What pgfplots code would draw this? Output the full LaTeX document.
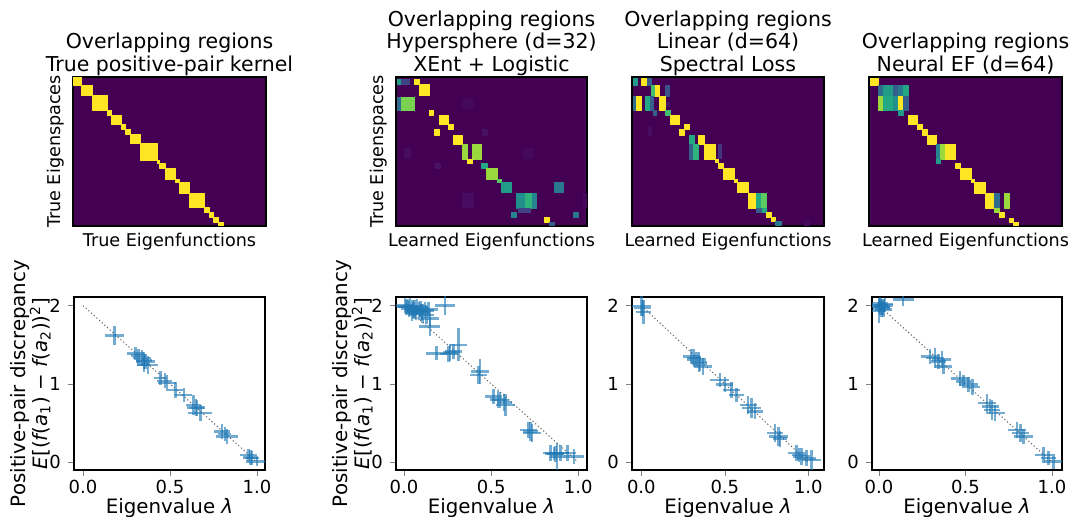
\documentclass[border=0pt]{standalone}
\usepackage{fontspec}
\setmainfont{DejaVu Sans}
\usepackage{pgfplots}
\pgfplotsset{compat=1.18}
\definecolor{tabblue}{HTML}{1F77B4}
\definecolor{vir0}{HTML}{440154}
\newcommand\titlefont{\fontsize{10.25}{11.25}\selectfont}
\newcommand\hlabfont{\fontsize{8.8}{10}\selectfont}
\newcommand\labfont{\fontsize{9.9}{11}\selectfont}
\newcommand\tickfont{\fontsize{9}{10}\selectfont}

\pgfplotsset{
  heat/.style={
    scale only axis, height=74.5pt, enlargelimits=false, y dir=reverse,
    ymin=22, ymax=467, xtick=\empty, ytick=\empty,
    axis background/.style={fill=vir0},
    colormap/viridis, point meta min=0, point meta max=1,
    axis line style={line width=0.6pt},
    title style={align=center, font=\titlefont, inner sep=0pt, yshift=-6.6pt},
    xlabel style={at={(axis description cs:0.5,-0.047)}, anchor=north, inner sep=0pt, font=\hlabfont},
    ylabel style={at={(axis description cs:-0.045,0.5)}, anchor=south, inner sep=0pt, font=\hlabfont},
  },
  disc/.style={
    scale only axis, height=86.5pt, ymin=-0.1, ymax=2.11,
    xtick={0,0.5,1}, xticklabels={0.0,0.5,1.0}, ytick={0,1,2},
    tick pos=left, tick align=outside, major tick length=3pt,
    tick label style={font=\tickfont},
    xticklabel style={yshift=1.5pt},
    /pgf/number format/assume math mode=true,
    axis line style={line width=0.6pt},
    xlabel={Eigenvalue {\itshape λ}},
    xlabel style={at={(axis description cs:0.5,-0.16)}, anchor=north, inner sep=0pt, font=\labfont},
    ylabel style={at={(axis description cs:-0.12,0.5)}, anchor=south, inner sep=0pt, align=center, font=\labfont},
  },
  cross/.style={draw=none, mark=none,
    error bars/.cd, x dir=both, x explicit, y dir=both, y explicit,
    error mark=none, error bar style={line width=1.25pt, tabblue, opacity=0.62}},
  diag/.style={color=black!60, line width=0.5pt, dash pattern=on 0.6pt off 1.2pt},
}

\begin{document}
\begin{tikzpicture}
\path[use as bounding box] (0,0) rectangle (535pt,258.5pt);

% ---------------- top row: overlap heatmaps ----------------
\begin{axis}[heat, at={(36.5pt,145.5pt)}, anchor=south west, width=96.5pt,
  xmin=42, xmax=617, ymin=24,
  title={Overlapping regions\\True positive-pair kernel\strut},
  xlabel={True Eigenfunctions}, ylabel={True Eigenspaces}]
\addplot[patch, patch type=rectangle, shader=flat, point meta=explicit] coordinates {
(42,24)[1] (68,24)[1] (68,48)[1] (42,48)[1]
(68,48)[1] (100,48)[1] (100,80)[1] (68,80)[1]
(100,80)[1] (143,80)[1] (143,123)[1] (100,123)[1]
(143,123)[1] (157,123)[1] (157,137)[1] (143,137)[1]
(157,137)[1] (185,137)[1] (185,165)[1] (157,165)[1]
(185,165)[1] (199,165)[1] (199,179)[1] (185,179)[1]
(199,179)[1] (214,179)[1] (214,194)[1] (199,194)[1]
(214,194)[1] (242,194)[1] (242,222)[1] (214,222)[1]
(242,222)[1] (292,222)[1] (292,272)[1] (242,272)[1]
(292,272)[1] (300,272)[1] (300,280)[1] (292,280)[1]
(300,280)[1] (316,280)[1] (316,296)[1] (300,296)[1]
(316,296)[1] (348,296)[1] (348,328)[1] (316,328)[1]
(348,328)[1] (358,328)[1] (358,338)[1] (348,338)[1]
(358,338)[1] (390,338)[1] (390,370)[1] (358,370)[1]
(390,370)[1] (432,370)[1] (432,412)[1] (390,412)[1]
(432,412)[1] (447,412)[1] (447,427)[1] (432,427)[1]
(447,427)[1] (461,427)[1] (461,441)[1] (447,441)[1]
(461,441)[1] (475,441)[1] (475,455)[1] (461,455)[1]
(475,455)[1] (490,455)[1] (490,467)[1] (475,467)[1]
};
\end{axis}

\begin{axis}[heat, at={(198pt,145.5pt)}, anchor=south west, width=95.5pt,
  xmin=17, xmax=590,
  title={Overlapping regions\\Hypersphere (d=32)\\XEnt + Logistic\strut},
  xlabel={Learned Eigenfunctions}, ylabel={True Eigenspaces}]
\addplot[patch, patch type=rectangle, shader=flat, point meta=explicit] coordinates {
(43,235)[0.03] (60,235)[0.03] (60,265)[0.03] (43,265)[0.03]
(215,85)[0.02] (250,85)[0.02] (250,115)[0.02] (215,115)[0.02]
(135,280)[0.05] (150,280)[0.05] (150,295)[0.05] (135,295)[0.05]
(275,180)[0.04] (290,180)[0.04] (290,195)[0.04] (275,195)[0.04]
(400,235)[0.02] (430,235)[0.02] (430,265)[0.02] (400,265)[0.02]
(215,370)[0.03] (250,370)[0.03] (250,410)[0.03] (215,410)[0.03]
(580,370)[0.02] (590,370)[0.02] (590,410)[0.02] (580,410)[0.02]
(20,28)[0.55] (32,28)[0.55] (32,45)[0.55] (20,45)[0.55]
(33,28)[0.2] (58,28)[0.2] (58,45)[0.2] (33,45)[0.2]
(73,28)[1] (88,28)[1] (88,45)[1] (73,45)[1]
(88,45)[1] (116,45)[1] (116,78)[1] (88,78)[1]
(20,82)[0.35] (33,82)[0.35] (33,122)[0.35] (20,122)[0.35]
(33,82)[0.8] (72,82)[0.8] (72,122)[0.8] (33,122)[0.8]
(116,122)[1] (130,122)[1] (130,137)[1] (116,137)[1]
(147,138)[1] (173,138)[1] (173,164)[1] (147,164)[1]
(173,164)[1] (188,164)[1] (188,180)[1] (173,180)[1]
(131,180)[1] (147,180)[1] (147,195)[1] (131,195)[1]
(188,195)[1] (215,195)[1] (215,222)[1] (188,222)[1]
(215,222)[0.85] (232,222)[0.85] (232,268)[0.85] (215,268)[0.85]
(245,222)[0.85] (273,222)[0.85] (273,268)[0.85] (245,268)[0.85]
(232,268)[1] (246,268)[1] (246,280)[1] (232,280)[1]
(273,280)[0.6] (290,280)[0.6] (290,295)[0.6] (273,295)[0.6]
(288,295)[0.85] (322,295)[0.85] (322,328)[0.85] (288,328)[0.85]
(322,328)[0.75] (332,328)[0.75] (332,338)[0.75] (322,338)[0.75]
(332,338)[0.55] (363,338)[0.55] (363,368)[0.55] (332,368)[0.55]
(493,338)[0.4] (520,338)[0.4] (520,368)[0.4] (493,368)[0.4]
(378,370)[0.5] (405,370)[0.5] (405,413)[0.5] (378,413)[0.5]
(405,370)[0.65] (425,370)[0.65] (425,413)[0.65] (405,413)[0.65]
(425,370)[0.45] (438,370)[0.45] (438,413)[0.45] (425,413)[0.45]
(383,413)[0.2] (420,413)[0.2] (420,426)[0.2] (383,426)[0.2]
(363,425)[0.45] (378,425)[0.45] (378,440)[0.45] (363,440)[0.45]
(550,425)[0.4] (563,425)[0.4] (563,440)[0.4] (550,440)[0.4]
(462,440)[1] (478,440)[1] (478,455)[1] (462,455)[1]
(478,455)[0.3] (493,455)[0.3] (493,465)[0.3] (478,465)[0.3]
};
\end{axis}

\begin{axis}[heat, at={(316pt,145.5pt)}, anchor=south west, width=96pt,
  xmin=37, xmax=613,
  title={Overlapping regions\\Linear (d=64)\\Spectral Loss\strut},
  xlabel={Learned Eigenfunctions}]
\addplot[patch, patch type=rectangle, shader=flat, point meta=explicit] coordinates {
(85,170)[0.03] (95,170)[0.03] (95,195)[0.03] (85,195)[0.03]
(140,97)[0.06] (150,97)[0.06] (150,110)[0.06] (140,110)[0.06]
(555,450)[0.02] (570,450)[0.02] (570,465)[0.02] (555,465)[0.02]
(40,27)[0.55] (52,27)[0.55] (52,47)[0.55] (40,47)[0.55]
(65,27)[1] (80,27)[1] (80,47)[1] (65,47)[1]
(82,27)[0.3] (95,27)[0.3] (95,47)[0.3] (82,47)[0.3]
(95,47)[0.7] (108,47)[0.7] (108,80)[0.7] (95,80)[0.7]
(108,47)[1] (120,47)[1] (120,80)[1] (108,80)[1]
(138,47)[0.25] (150,47)[0.25] (150,80)[0.25] (138,80)[0.25]
(40,80)[0.35] (50,80)[0.35] (50,122)[0.35] (40,122)[0.35]
(50,80)[1] (64,80)[1] (64,122)[1] (50,122)[1]
(78,80)[0.6] (93,80)[0.6] (93,122)[0.6] (78,122)[0.6]
(93,80)[0.3] (100,80)[0.3] (100,122)[0.3] (93,122)[0.3]
(120,80)[1] (136,80)[1] (136,122)[1] (120,122)[1]
(100,122)[0.3] (110,122)[0.3] (110,137)[0.3] (100,137)[0.3]
(136,122)[0.7] (152,122)[0.7] (152,137)[0.7] (136,137)[0.7]
(152,137)[1] (180,137)[1] (180,163)[1] (152,163)[1]
(195,163)[1] (210,163)[1] (210,180)[1] (195,180)[1]
(178,180)[1] (195,180)[1] (195,195)[1] (178,195)[1]
(210,195)[0.6] (225,195)[0.6] (225,222)[0.6] (210,222)[0.6]
(235,195)[1] (253,195)[1] (253,222)[1] (235,222)[1]
(210,222)[0.3] (222,222)[0.3] (222,268)[0.3] (210,268)[0.3]
(222,222)[0.65] (235,222)[0.65] (235,268)[0.65] (222,268)[0.65]
(253,222)[1] (288,222)[1] (288,268)[1] (253,268)[1]
(296,222)[0.15] (306,222)[0.15] (306,265)[0.15] (296,265)[0.15]
(288,268)[1] (297,268)[1] (297,278)[1] (288,278)[1]
(297,280)[1] (310,280)[1] (310,295)[1] (297,295)[1]
(312,295)[1] (343,295)[1] (343,328)[1] (312,328)[1]
(343,328)[1] (352,328)[1] (352,338)[1] (343,338)[1]
(352,338)[1] (385,338)[1] (385,368)[1] (352,368)[1]
(385,370)[1] (410,370)[1] (410,413)[1] (385,413)[1]
(410,370)[0.6] (425,370)[0.6] (425,413)[0.6] (410,413)[0.6]
(425,370)[0.75] (440,370)[0.75] (440,413)[0.75] (425,413)[0.75]
(410,413)[0.3] (428,413)[0.3] (428,425)[0.3] (410,425)[0.3]
(428,413)[0.6] (440,413)[0.6] (440,425)[0.6] (428,425)[0.6]
(440,425)[1] (455,425)[1] (455,440)[1] (440,440)[1]
(455,440)[1] (467,440)[1] (467,452)[1] (455,452)[1]
(467,452)[0.4] (485,452)[0.4] (485,465)[0.4] (467,465)[0.4]
};
\end{axis}

\begin{axis}[heat, at={(434.5pt,145.5pt)}, anchor=south west, width=96.5pt,
  xmin=58, xmax=635,
  title={Overlapping regions\\Neural EF (d=64)\strut},
  xlabel={Learned Eigenfunctions}]
\addplot[patch, patch type=rectangle, shader=flat, point meta=explicit] coordinates {
(62,27)[1] (87,27)[1] (87,47)[1] (62,47)[1]
(87,47)[0.35] (100,47)[0.35] (100,80)[0.35] (87,80)[0.35]
(100,47)[0.55] (130,47)[0.55] (130,80)[0.55] (100,80)[0.55]
(130,47)[0.3] (145,47)[0.3] (145,80)[0.3] (130,80)[0.3]
(145,47)[0.4] (160,47)[0.4] (160,80)[0.4] (145,80)[0.4]
(160,47)[0.6] (176,47)[0.6] (176,80)[0.6] (160,80)[0.6]
(87,80)[0.85] (100,80)[0.85] (100,122)[0.85] (87,122)[0.85]
(100,80)[0.6] (130,80)[0.6] (130,122)[0.6] (100,122)[0.6]
(130,80)[0.5] (145,80)[0.5] (145,122)[0.5] (130,122)[0.5]
(145,80)[1] (160,80)[1] (160,122)[1] (145,122)[1]
(160,80)[0.3] (176,80)[0.3] (176,122)[0.3] (160,122)[0.3]
(145,122)[0.55] (160,122)[0.55] (160,137)[0.55] (145,137)[0.55]
(176,137)[1] (203,137)[1] (203,163)[1] (176,163)[1]
(203,163)[1] (217,163)[1] (217,178)[1] (203,178)[1]
(217,180)[1] (233,180)[1] (233,195)[1] (217,195)[1]
(233,195)[1] (260,195)[1] (260,222)[1] (233,222)[1]
(258,222)[0.45] (272,222)[0.45] (272,268)[0.45] (258,268)[0.45]
(272,222)[0.85] (285,222)[0.85] (285,268)[0.85] (272,268)[0.85]
(285,222)[1] (317,222)[1] (317,268)[1] (285,268)[1]
(258,268)[0.55] (272,268)[0.55] (272,280)[0.55] (258,280)[0.55]
(317,280)[1] (332,280)[1] (332,295)[1] (317,295)[1]
(332,295)[1] (365,295)[1] (365,328)[1] (332,328)[1]
(365,328)[1] (373,328)[1] (373,338)[1] (365,338)[1]
(373,338)[1] (405,338)[1] (405,370)[1] (373,370)[1]
(405,370)[1] (432,370)[1] (432,413)[1] (405,413)[1]
(432,370)[0.35] (447,370)[0.35] (447,413)[0.35] (432,413)[0.35]
(462,370)[0.85] (478,370)[0.85] (478,413)[0.85] (462,413)[0.85]
(432,413)[0.85] (447,413)[0.85] (447,427)[0.85] (432,427)[0.85]
(447,427)[1] (462,427)[1] (462,442)[1] (447,442)[1]
(478,443)[1] (490,443)[1] (490,455)[1] (478,455)[1]
(490,455)[1] (505,455)[1] (505,465)[1] (490,465)[1]
};
\end{axis}

% ---------------- bottom row: discrepancy vs eigenvalue ----------------
\begin{axis}[disc, at={(37pt,23.5pt)}, anchor=south west, width=95.5pt,
  xmin=-0.052, xmax=1.046,
  ylabel={Positive-pair discrepancy\\{\itshape E}[({\itshape f}({\itshape a}\textsubscript{1}) − {\itshape f}({\itshape a}\textsubscript{2}))\textsuperscript{2}]}]
\addplot[diag] coordinates {(0,2) (1,0)};
\addplot[cross] table[x=x, y=y, x error=ex, y error=ey] {
x y ex ey
0.180 1.617 0.054 0.120
0.301 1.391 0.048 0.080
0.320 1.360 0.044 0.088
0.339 1.328 0.050 0.100
0.350 1.300 0.045 0.106
0.358 1.285 0.056 0.094
0.372 1.243 0.060 0.112
0.349 1.250 0.038 0.100
0.444 1.072 0.038 0.088
0.470 1.040 0.044 0.094
0.483 1.009 0.050 0.100
0.531 0.923 0.044 0.106
0.579 0.860 0.050 0.088
0.636 0.732 0.044 0.125
0.650 0.700 0.050 0.112
0.655 0.689 0.038 0.100
0.674 0.626 0.069 0.106
0.799 0.391 0.044 0.100
0.815 0.360 0.038 0.088
0.828 0.328 0.063 0.100
0.952 0.094 0.050 0.075
0.962 0.060 0.044 0.100
0.971 0.051 0.038 0.088
1.000 0.009 0.063 0.063
};
\end{axis}

\begin{axis}[disc, at={(198pt,23.5pt)}, anchor=south west, width=95.5pt,
  xmin=-0.046, xmax=1.05,
  ylabel={Positive-pair discrepancy\\{\itshape E}[({\itshape f}({\itshape a}\textsubscript{1}) − {\itshape f}({\itshape a}\textsubscript{2}))\textsuperscript{2}]}]
\addplot[diag] coordinates {(0,2) (1,0)};
\addplot[cross] table[x=x, y=y, x error=ex, y error=ey] {
x y ex ey
0.005 2.000 0.050 0.100
0.015 1.985 0.055 0.090
0.020 1.990 0.056 0.088
0.030 1.960 0.050 0.100
0.035 1.980 0.050 0.112
0.050 1.970 0.044 0.100
0.055 1.940 0.050 0.100
0.060 1.950 0.050 0.125
0.070 1.910 0.045 0.100
0.075 1.990 0.056 0.100
0.085 1.930 0.050 0.112
0.095 1.960 0.050 0.100
0.100 1.920 0.050 0.100
0.105 1.900 0.044 0.125
0.120 1.940 0.050 0.100
0.130 1.880 0.044 0.112
0.140 1.950 0.056 0.100
0.045 1.900 0.038 0.100
0.235 2.000 0.060 0.125
0.148 1.838 0.050 0.100
0.148 1.732 0.060 0.119
0.187 1.391 0.060 0.088
0.255 1.380 0.050 0.100
0.265 1.400 0.044 0.112
0.283 1.413 0.050 0.100
0.313 1.498 0.050 0.210
0.437 1.157 0.050 0.160
0.427 1.115 0.050 0.112
0.513 0.838 0.050 0.100
0.540 0.800 0.044 0.112
0.552 0.796 0.050 0.100
0.575 0.760 0.044 0.112
0.581 0.732 0.056 0.138
0.715 0.413 0.050 0.100
0.725 0.390 0.044 0.125
0.735 0.370 0.050 0.112
0.840 0.115 0.044 0.100
0.860 0.110 0.050 0.088
0.869 0.106 0.050 0.100
0.879 0.072 0.044 0.175
0.898 0.115 0.050 0.100
0.937 0.115 0.050 0.100
0.975 0.072 0.056 0.100
};
\end{axis}

\begin{axis}[disc, at={(316pt,23.5pt)}, anchor=south west, width=96pt,
  xmin=-0.056, xmax=1.094]
\addplot[diag] coordinates {(0,2) (1,0)};
\addplot[cross] table[x=x, y=y, x error=ex, y error=ey] {
x y ex ey
0.000 1.996 0.056 0.125
0.008 1.970 0.050 0.100
0.014 1.920 0.044 0.150
0.300 1.350 0.050 0.100
0.315 1.330 0.044 0.112
0.330 1.310 0.056 0.100
0.345 1.280 0.050 0.125
0.350 1.260 0.044 0.100
0.370 1.220 0.056 0.112
0.470 1.050 0.056 0.088
0.500 0.990 0.050 0.100
0.540 0.920 0.050 0.100
0.570 0.860 0.044 0.088
0.640 0.730 0.050 0.112
0.660 0.690 0.056 0.125
0.680 0.650 0.050 0.100
0.800 0.370 0.050 0.112
0.820 0.330 0.056 0.125
0.830 0.300 0.044 0.100
0.930 0.115 0.050 0.100
0.945 0.090 0.044 0.088
0.960 0.072 0.050 0.112
0.990 0.050 0.056 0.100
1.020 0.030 0.056 0.125
};
\end{axis}

\begin{axis}[disc, at={(436pt,23.5pt)}, anchor=south west, width=95pt,
  xmin=-0.04, xmax=1.058]
\addplot[diag] coordinates {(0,2) (1,0)};
\addplot[cross] table[x=x, y=y, x error=ex, y error=ey] {
x y ex ey
0.000 2.000 0.050 0.100
0.005 2.030 0.050 0.080
0.010 1.990 0.056 0.112
0.020 1.980 0.044 0.100
0.030 2.000 0.050 0.088
0.035 2.020 0.045 0.080
0.015 1.960 0.050 0.112
0.000 1.930 0.038 0.150
0.025 1.950 0.050 0.100
0.140 2.080 0.060 0.088
0.295 1.350 0.050 0.100
0.324 1.330 0.050 0.125
0.344 1.285 0.044 0.100
0.363 1.310 0.056 0.112
0.373 1.220 0.050 0.100
0.469 1.070 0.050 0.100
0.488 1.030 0.044 0.088
0.517 0.990 0.056 0.100
0.540 0.960 0.044 0.100
0.624 0.753 0.050 0.112
0.643 0.710 0.050 0.100
0.653 0.668 0.044 0.125
0.672 0.626 0.056 0.100
0.797 0.413 0.050 0.100
0.817 0.370 0.050 0.112
0.836 0.328 0.056 0.100
0.952 0.094 0.050 0.100
0.980 0.051 0.044 0.088
1.010 0.009 0.056 0.100
};
\end{axis}
\end{tikzpicture}
\end{document}
